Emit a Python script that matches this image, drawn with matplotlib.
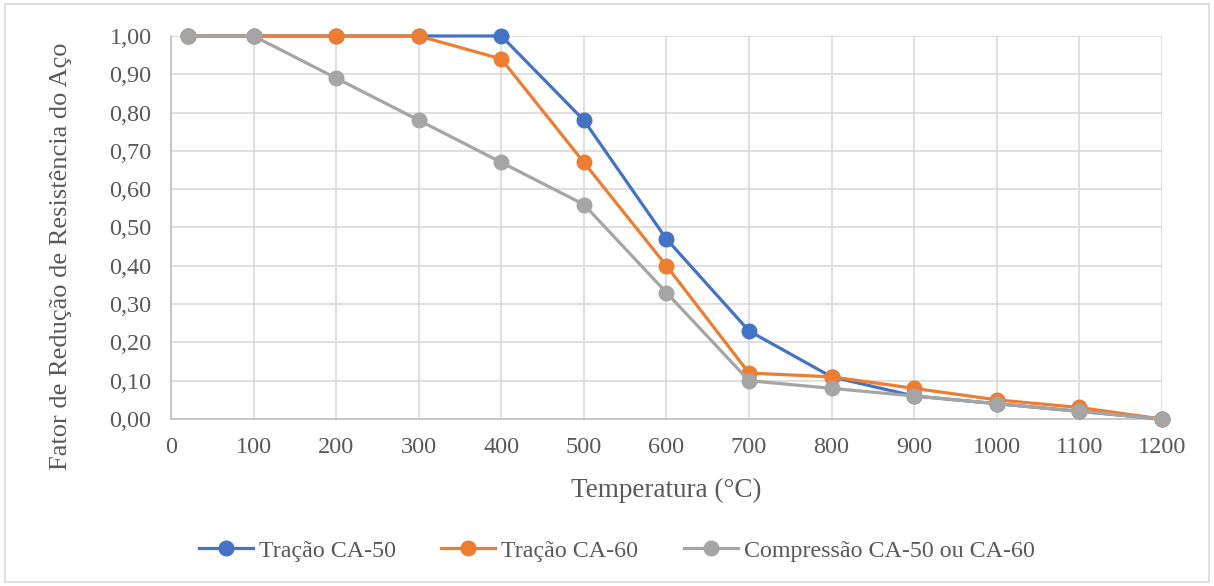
import matplotlib
matplotlib.use('Agg')
import matplotlib.pyplot as plt
from matplotlib.patches import Rectangle
from matplotlib.ticker import FuncFormatter

plt.rcParams['font.family'] = ['Liberation Serif', 'DejaVu Serif']

# dados
temps = [20, 100, 200, 300, 400, 500, 600, 700, 800, 900, 1000, 1100, 1200]
tracao_ca50 = [1.00, 1.00, 1.00, 1.00, 1.00, 0.78, 0.47, 0.23, 0.11, 0.06, 0.04, 0.02, 0.00]
tracao_ca60 = [1.00, 1.00, 1.00, 1.00, 0.94, 0.67, 0.40, 0.12, 0.11, 0.08, 0.05, 0.03, 0.00]
compressao = [1.00, 1.00, 0.89, 0.78, 0.67, 0.56, 0.33, 0.10, 0.08, 0.06, 0.04, 0.02, 0.00]
labels = ['Tração CA-50', 'Tração CA-60', 'Compressão CA-50 ou CA-60']
colors = ['#4472C4', '#ED7D31', '#A5A5A5']

txt = '#595959'

fig = plt.figure(figsize=(12.14, 5.86), dpi=100)
ax = fig.add_axes([0.1409, 0.285, 0.8161, 0.6536])

for ys, lab, c in zip([tracao_ca50, tracao_ca60, compressao], labels, colors):
    ax.plot(temps, ys, color=c, lw=2.3, marker='o', markersize=10.5, label=lab,
            clip_on=False, zorder=3)

ax.set_xlim(0, 1200)
ax.set_ylim(0, 1.0)
ax.set_xticks(range(0, 1201, 100))
ax.set_yticks([i / 10 for i in range(11)])
ax.yaxis.set_major_formatter(FuncFormatter(lambda v, p: '{:.2f}'.format(v).replace('.', ',')))
ax.grid(True, color='#d9d9d9', lw=1.2)
ax.set_axisbelow(True)
for s in ['top', 'right']:
    ax.spines[s].set_visible(False)
for s in ['left', 'bottom']:
    ax.spines[s].set_color('#bfbfbf')
    ax.spines[s].set_linewidth(1.2)
ax.tick_params(length=0, labelsize=17.5, colors=txt)
ax.tick_params(axis='y', pad=14)
ax.tick_params(axis='x', pad=13)

ax.set_xlabel('Temperatura (°C)', fontsize=19.5, color=txt, labelpad=14)
ax.set_ylabel('Fator de Redução de Resistência do Aço', fontsize=19, color=txt)
ax.yaxis.set_label_coords(-0.100, 0.4256)

fig.legend(loc='center', bbox_to_anchor=(0.508, 0.06), ncol=3, frameon=False,
           fontsize=17.3, labelcolor=txt, handlelength=2.25, handletextpad=0.25,
           columnspacing=1.9)

fig.patches.append(Rectangle((0.004, 0.006), 0.992, 0.988, transform=fig.transFigure,
                             fill=False, edgecolor='#d9d9d9', lw=1.2))

fig.savefig('out.png', dpi=100)
